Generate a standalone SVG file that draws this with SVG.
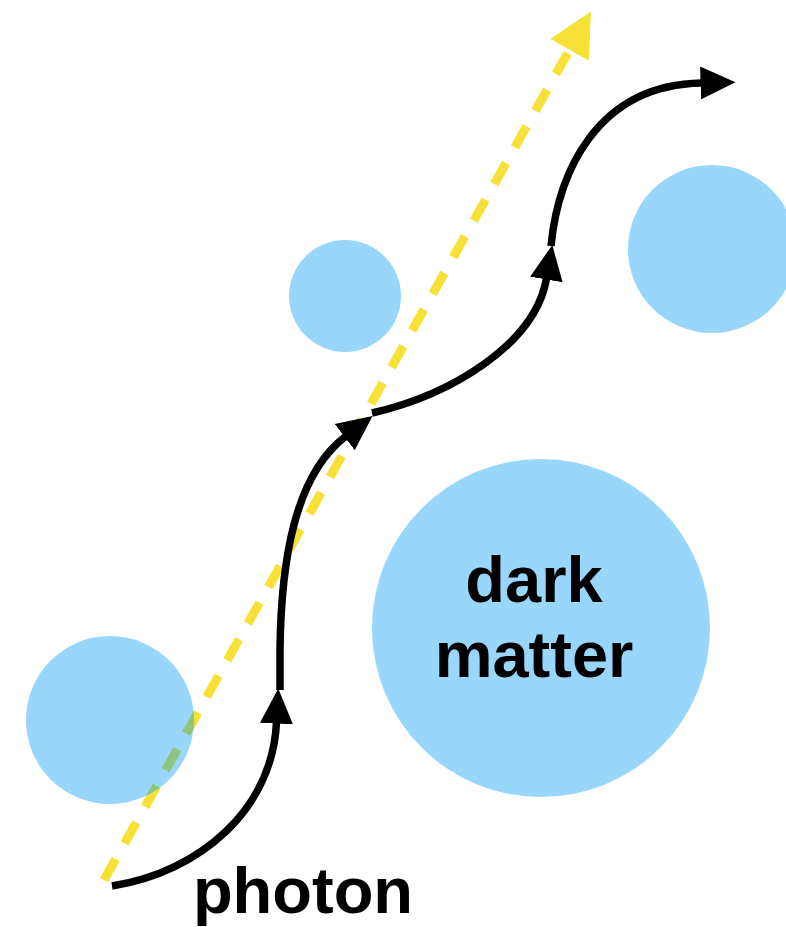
<svg xmlns="http://www.w3.org/2000/svg" width="786" height="927" viewBox="0 0 786 927">
<defs>
<style>
.blob{fill:#99D6FC}
.photon{fill:none;stroke:#000;stroke-width:7.5;marker-end:url(#ah)}
.ray{fill:none;stroke:#F8E136;stroke-width:9;stroke-dasharray:24 18}
.lbl{font-family:"Liberation Sans",Arial,sans-serif;font-weight:bold;font-size:65px;fill:#000;text-anchor:middle}
</style>
<marker id="ah" markerUnits="userSpaceOnUse" markerWidth="40" markerHeight="40" viewBox="0 -20 40 40" refX="1" refY="0" orient="auto">
<path d="M0,-16.5 L35,0 L0,16.5 Z" fill="#000"/>
</marker>
<marker id="yah" markerUnits="userSpaceOnUse" markerWidth="50" markerHeight="50" viewBox="0 -25 50 50" refX="1" refY="0" orient="auto">
<path d="M0,-22 L44,0 L0,22 Z" fill="#F8E136"/>
</marker>
<clipPath id="clipBL"><circle cx="110" cy="720" r="84"/></clipPath>
</defs>
<g id="ray-group">
<path id="ray" class="ray" d="M104,880 L570,49" marker-end="url(#yah)"/>
</g>
<g id="clump-bl"><circle class="blob" cx="110" cy="720" r="84"/>
<path d="M104,880 L570,49" fill="none" stroke="#8FC47E" stroke-width="9" stroke-dasharray="24 18" clip-path="url(#clipBL)"/>
</g>
<g id="clump-small"><circle class="blob" cx="345" cy="296" r="56"/></g>
<g id="clump-right"><circle class="blob" cx="712" cy="249" r="84"/></g>
<g id="dark-matter"><circle class="blob" cx="541" cy="628" r="169"/>
<text class="lbl" x="534" y="602">dark</text>
<text class="lbl" x="534" y="677">matter</text>
</g>
<g id="connectors">
<path class="photon" d="M112,886 C200,872 272,810 276.5,722.5"/>
<path class="photon" d="M280,690 L280,650 C281,560 295,475 345.5,436.5"/>
<path class="photon" d="M372,413 C450,395 535,345 546.5,278.5"/>
<path class="photon" d="M551,246 C558,175 595,85 701.5,83"/>
</g>
<g id="label-photon"><text class="lbl" x="303" y="913">photon</text></g>
</svg>
